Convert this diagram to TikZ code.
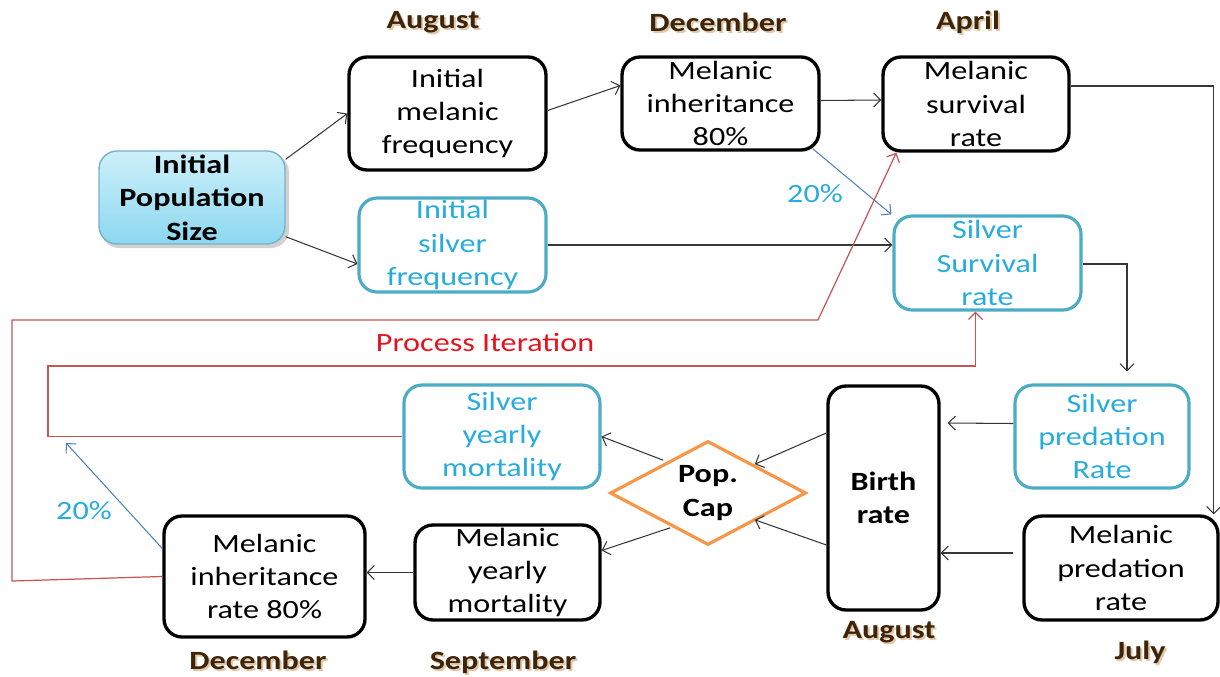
\documentclass[tikz,border=0pt]{standalone}
\usepackage{fontspec}
\setmainfont{Carlito}[FakeStretch=1.22]
\usetikzlibrary{arrows.meta,calc,shapes.geometric}
\definecolor{tealc}{RGB}{75,172,198}
\definecolor{cyanT}{RGB}{40,172,222}
\definecolor{linec}{RGB}{55,55,55}
\definecolor{bluel}{RGB}{79,129,189}
\definecolor{redl}{RGB}{200,85,85}
\definecolor{redT}{RGB}{228,20,30}
\definecolor{brownT}{RGB}{62,36,8}
\definecolor{brownS}{RGB}{225,200,170}
\definecolor{orangeC}{RGB}{247,150,70}
\definecolor{ipsTop}{RGB}{205,240,250}
\definecolor{ipsBot}{RGB}{140,216,240}
\definecolor{ipsBorder}{RGB}{120,178,198}
\begin{document}
\begin{tikzpicture}[x=0.02cm,y=-0.02cm,
  box/.style={rounded corners=0.36cm, line width=1.9pt, align=center, inner sep=0pt, font=\fontsize{15}{19}\selectfont},
  blk/.style={box, draw=black},
  tl/.style={box, draw=tealc, line width=1.8pt, text=cyanT},
  conn/.style={draw=linec, line width=0.6pt, -{Straight Barb[length=4pt,width=8pt]}},
  bconn/.style={draw=bluel, line width=0.6pt, -{Straight Barb[length=4pt,width=8pt]}},
  rconn/.style={draw=redl, line width=0.7pt, -{Straight Barb[length=4pt,width=8pt]}},
  month/.style={font=\bfseries\fontsize{15}{18}\selectfont, text=brownT},
  mshadow/.style={font=\bfseries\fontsize{15}{18}\selectfont, text=brownS},
  pct/.style={font=\fontsize{15}{18}\selectfont, text=cyanT}]
\useasboundingbox (0,0) rectangle (1220,676);

% nodes
\fill[black!18, rounded corners=0.36cm] (101,154) rectangle (289,248);
\node[box, draw=ipsBorder, line width=0.8pt, top color=ipsTop, bottom color=ipsBot, font=\bfseries\fontsize{15}{19}\selectfont,
  minimum width=3.72cm, minimum height=1.86cm] (ips) at (192,197.5) {Initial\\Population\\Size};
\node[blk, minimum width=3.94cm, minimum height=2.26cm] (imf) at (447.5,113.5) {Initial\\melanic\\frequency};
\node[blk, minimum width=3.94cm, minimum height=1.86cm] (mi) at (720.5,103.5) {Melanic\\inheritance\\80\%};
\node[blk, minimum width=3.72cm, minimum height=1.88cm] (ms) at (976,104) {Melanic\\survival\\rate};
\node[tl, minimum width=3.74cm, minimum height=1.88cm] (isf) at (452.5,245) {Initial\\silver\\frequency};
\node[tl, minimum width=3.74cm, minimum height=1.88cm] (ss) at (987.5,263) {Silver\\Survival\\rate};
\node[tl, minimum width=3.48cm, minimum height=2.06cm] (spr) at (1102,436.5) {Silver\\predation\\Rate};
\node[blk, minimum width=3.88cm, minimum height=2.08cm] (mpr) at (1121,568) {Melanic\\predation\\rate};
\node[blk, font=\bfseries\fontsize{15}{19}\selectfont, minimum width=2.22cm, minimum height=4.48cm] (br) at (883.5,498) {Birth\\rate};
\node[diamond, draw=orangeC, line width=1.8pt, aspect=1.885, minimum width=3.92cm, minimum height=2.08cm, inner sep=0pt,
  align=center, font=\bfseries\fontsize{15}{19}\selectfont] (pc) at (708,493) {Pop.\\Cap};
\node[tl, minimum width=3.92cm, minimum height=2.06cm] (sym) at (502,436.5) {Silver\\yearly\\mortality};
\node[blk, minimum width=3.7cm, minimum height=1.9cm] (mym) at (507.5,572.5) {Melanic\\yearly\\mortality};
\node[blk, minimum width=4.02cm, minimum height=2.42cm] (mir) at (264.5,576.5) {Melanic\\inheritance\\rate 80\%};

% month labels (soft shadow + text)
\foreach \t/\x/\y in {August/433/22, December/718/22, April/968/22, August/889/632, December/258/660, September/503/662, July/1140/652}
  \node[mshadow] at (\x+2,\y+2) {\t};
\node[month] (m1) at (433,22) {August};
\node[month] (m2) at (718,22) {December};
\node[month] (m3) at (968,22) {April};
\node[month] (m4) at (889,632) {August};
\node[month] (m5) at (258,660) {December};
\node[month] (m6) at (503,662) {September};
\node[month] (m7) at (1140,652) {July};

% other labels
\node[pct] (p1) at (815,194) {20\%};
\node[pct] (p2) at (84,511) {20\%};
\node[font=\fontsize{15}{18}\selectfont, text=redT] (pi) at (485,342) {Process Iteration};

% connectors
\draw[conn] ($(ips.north east)+(0,9)$) -- (imf.west);
\draw[conn] ($(ips.south east)+(0,-8)$) -- ($(isf.west)+(0,19)$);
\draw[conn] ($(imf.east)+(0,-3)$) -- ($(mi.west)+(0,-18)$);
\draw[conn] ($(mi.east)+(0,-3)$) -- ($(ms.west)+(0,-4)$);
\draw[bconn] ($(mi.south east)+(-8,-3)$) -- ($(ss.north west)+(-1,0)$);
\draw[conn] (isf.east) -- ($(ss.west)+(0,-18)$);
\draw[conn] ($(ms.east)+(0,-18)$) -| ($(mpr.north east)+(-6,0)$);
\coordinate (sprtop) at ($(spr.north)+(25,-12)$);
\draw[conn] ($(ss.east)+(0,1)$) -| (sprtop);
\draw[conn] ($(spr.west)+(0,-13)$) -- ($(br.east)+(7,-75)$);
\draw[conn] ($(mpr.west)+(-9,-15)$) -- ($(br.east)+(0,55)$);
\draw[conn] ($(br.west)+(0,-65)$) -- ($(pc.north east)+(-3,-2)$);
\draw[conn] ($(br.west)+(0,47)$) -- ($(pc.south east)+(-3,0)$);
\draw[conn] ($(pc.north west)+(5,-6)$) -- (sym.east);
\draw[conn] ($(pc.south west)+(12,8)$) -- ($(mym.east)+(0,-22)$);
\draw[conn] (mym.west) -- (mym.west -| mir.east);
\coordinate (b20) at (66,443);
\draw[bconn] ($(mir.west)+(0,-28)$) -- (b20);

% process iteration loops
\coordinate (r1a) at (12,581);
\coordinate (r1b) at (12,320);
\coordinate (r1c) at (818,320);
\draw[rconn] (mir.west) -- (r1a) -- (r1b) -- (r1c) -- ($(ms.south west)+(15,0)$);
\coordinate (r2a) at (48,436.5);
\coordinate (r2b) at (48,366);
\draw[rconn] (sym.west) -- (r2a) -- (r2b) -| ($(ss.south)+(-12,0)$);
\end{tikzpicture}
\end{document}
